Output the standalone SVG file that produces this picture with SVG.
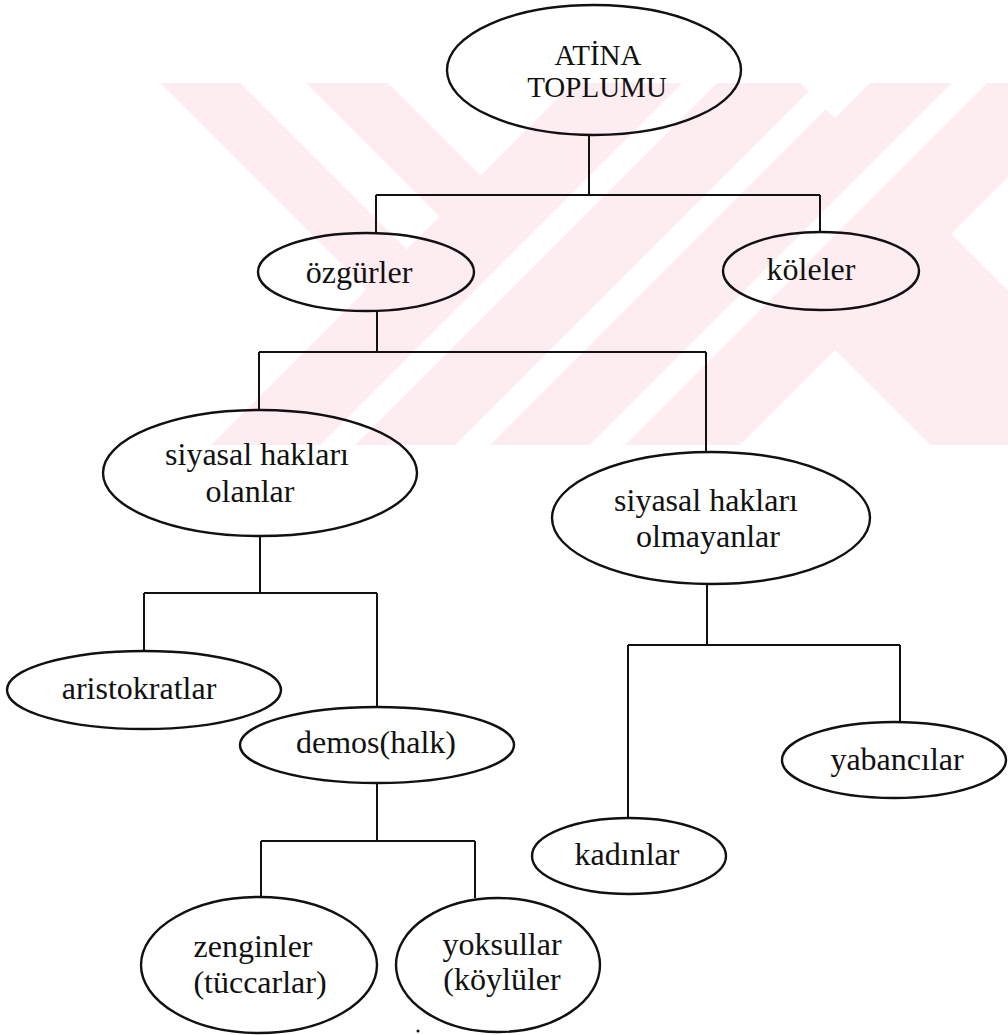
<svg xmlns="http://www.w3.org/2000/svg" width="1008" height="1035" viewBox="0 0 1008 1035">
<style>
.n ellipse{fill:none;stroke:#111;stroke-width:2.4}
.n text{font-family:'Liberation Serif','Times New Roman',serif;font-size:32px;fill:#111;text-anchor:middle}
.n text.r{font-size:29px}
.c{fill:none;stroke:#111;stroke-width:2}
.wm{fill:#fdecf0}
.wh{fill:#fff}
</style>
<defs>
<clipPath id="wmclip"><rect x="157" y="83" width="851" height="362"/></clipPath>
</defs>
<rect width="1008" height="1035" fill="#fff"/>
<g id="watermark" clip-path="url(#wmclip)">
<rect class="wm" x="157" y="83" width="851" height="362"/>
<polygon class="wh" points="0,0 77,0 366.5,289.5 0,656"/>
<polygon class="wh" points="157,0 223,0 439.5,216.5 406.5,249.5"/>
<polygon class="wh" points="305,0 656,0 480.5,175.5"/>
<polygon class="wh" points="765,0 800,0 -200,1000 -235,1000"/>
<polygon class="wh" points="900,0 935,0 -65,1000 -100,1000"/>
<polygon class="wh" points="1035,0 1070,0 70,1000 35,1000"/>
<polygon class="wh" points="717,0 953,0 835,118"/>
<polygon class="wh" points="951,234 1185,0 1500,0 1500,783"/>
<polygon class="wh" points="835,350 1185,700 485,700"/>
</g>
<g id="connectors">
<path class="c" d="M589 135V195M376 195H820M376 195V233M820 195V232"/>
<path class="c" d="M377 312V352M259 352H706M259 352V410M706 352V452"/>
<path class="c" d="M260 536V593M144 593H377M144 593V651M377 593V707"/>
<path class="c" d="M377 783V841M261 841H475M261 841V897M475 841V898"/>
<path class="c" d="M707 584V645M628 645H900M628 645V818M900 645V722"/>
</g>
<g id="atina" class="n"><ellipse cx="594" cy="70" rx="147" ry="65"/><text class="r" x="598" y="65">ATİNA</text><text class="r" x="597" y="97">TOPLUMU</text></g>
<g id="ozgurler" class="n"><ellipse cx="366" cy="272" rx="108" ry="39"/><text x="359" y="283">özgürler</text></g>
<g id="koleler" class="n"><ellipse cx="821" cy="271" rx="98" ry="39"/><text x="811" y="280">köleler</text></g>
<g id="olanlar" class="n"><ellipse cx="260" cy="473" rx="157" ry="63"/><text x="257" y="465">siyasal hakları</text><text x="250" y="502">olanlar</text></g>
<g id="olmayanlar" class="n"><ellipse cx="711" cy="518" rx="159" ry="66"/><text x="706" y="511">siyasal hakları</text><text x="708" y="547">olmayanlar</text></g>
<g id="aristokratlar" class="n"><ellipse cx="144" cy="690" rx="137" ry="39"/><text x="139" y="699">aristokratlar</text></g>
<g id="demos" class="n"><ellipse cx="377" cy="745" rx="137" ry="38"/><text x="376" y="753">demos(halk)</text></g>
<g id="yabancilar" class="n"><ellipse cx="894" cy="760" rx="112" ry="38"/><text x="897" y="770">yabancılar</text></g>
<g id="kadinlar" class="n"><ellipse cx="629" cy="856" rx="97" ry="38"/><text x="627" y="865">kadınlar</text></g>
<g id="zenginler" class="n"><ellipse cx="259" cy="965" rx="118" ry="68"/><text x="253" y="957">zenginler</text><text x="260" y="993">(tüccarlar)</text></g>
<g id="yoksullar" class="n"><ellipse cx="498" cy="965" rx="102" ry="67"/><text x="502" y="955">yoksullar</text><text x="502" y="990">(köylüler</text></g>
<circle cx="418" cy="1031" r="1.5" fill="#111"/>
</svg>
